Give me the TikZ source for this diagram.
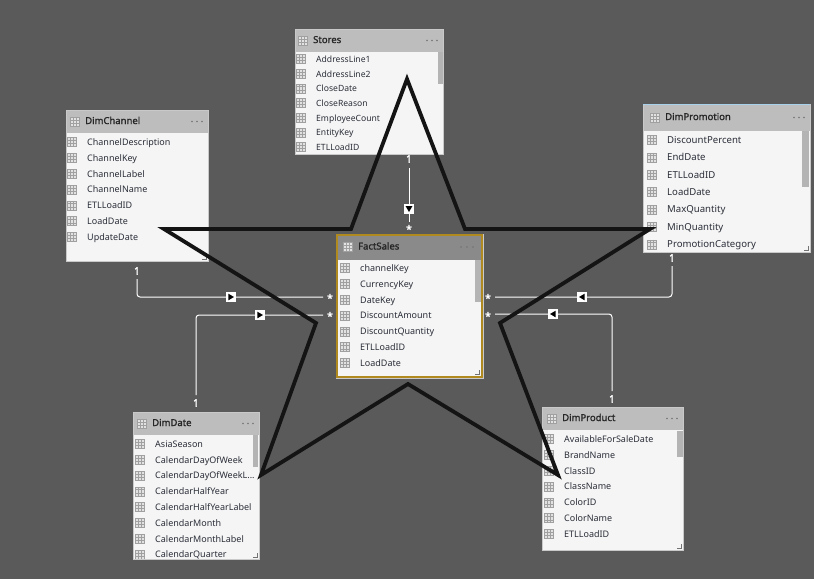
\documentclass[tikz,border=0pt]{standalone}
\usepackage{fontspec}
\setmainfont{Noto Sans}
\newfontfamily\headfont[FakeBold=1.4]{Noto Sans}
\newfontfamily\markfont[FakeBold=2]{Noto Sans}
\definecolor{canvasgrey}{HTML}{5A5A5A}
\definecolor{bodygrey}{HTML}{F5F5F5}
\definecolor{headgrey}{HTML}{BDBDBD}
\definecolor{factheadgrey}{HTML}{8A8A8A}
\definecolor{edgegrey}{HTML}{C9C9C9}
\definecolor{inkgrey}{HTML}{2A2E38}
\definecolor{iconline}{HTML}{A0A0A0}
\definecolor{iconfill}{HTML}{E2E2E2}
\definecolor{scrollgrey}{HTML}{B4B4B4}
\definecolor{goldedge}{HTML}{B08A1E}
\definecolor{starink}{HTML}{141414}
\definecolor{bluetop}{HTML}{A8D0EA}
\tikzset{
  x=1pt,y=-1pt,
  tablebody/.style={draw=edgegrey,line width=1,fill=bodygrey,inner sep=0,anchor=north west},
  rowtext/.style={anchor=west,inner sep=0,text height=7,text depth=2,text=inkgrey},
  titletext/.style={anchor=west,inner sep=0,text height=7,text depth=2,text=black!85,font=\fontsize{9.5}{11}\headfont},
  cardinal/.style={inner sep=0,text=white,font=\fontsize{10.5}{10}\markfont,minimum size=6},
  relation/.style={draw=white,line width=1,rounded corners=3},
  flagbox/.style={draw=white,fill=white,minimum size=9,inner sep=0,line width=.5},
  flagleft/.style={flagbox,path picture={\fill[black] ([xshift=2.6,yshift=-1.2]path picture bounding box.north) -- ([xshift=2.6,yshift=-7.8]path picture bounding box.north) -- ([xshift=-3]path picture bounding box.center) -- cycle;}},
  flagright/.style={flagbox,path picture={\fill[black] ([xshift=-2.6,yshift=-1.2]path picture bounding box.north) -- ([xshift=-2.6,yshift=-7.8]path picture bounding box.north) -- ([xshift=3]path picture bounding box.center) -- cycle;}},
  flagdown/.style={flagbox,path picture={\fill[black] ([yshift=-1.6,xshift=-3.4]path picture bounding box.north) -- ([yshift=-1.6,xshift=3.4]path picture bounding box.north) -- ([yshift=-3]path picture bounding box.center) -- cycle;}},
  staredge/.style={draw=starink,line width=3.8,line join=miter},
  gripmark/.style={draw=black!55,line width=.6},
  gridicon/.pic={
    \draw[iconline,fill=iconfill,line width=.7] (-4.8,-4.5) rectangle (4.8,4.5);
    \draw[iconline,line width=.5] (-4.8,-1.7) -- (4.8,-1.7) (-4.8,1.5) -- (4.8,1.5) (-1.5,-4.5) -- (-1.5,4.5) (1.7,-4.5) -- (1.7,4.5);
  }
}
\def\truncrow{CalendarDayOfWeekL...}
\newcommand{\modeltable}[9]{%
  \pgfmathsetmacro{\tw}{#4-#2}\pgfmathsetmacro{\th}{#5-#3}%
  \pgfmathsetmacro{\hh}{#6-#3}%
  \node[tablebody,minimum width=\tw,minimum height=\th] (#1) at (#2,#3) {};
  \fill[headgrey] (#2+.5,#3+.5) rectangle (#4-.5,#6);
  \pic at (#7-10,#3+\hh/2) {gridicon};
  \node[titletext] (#1-title) at (#7,#3+\hh/2) {#9};
  \foreach \dx in {-16,-11,-6} {\fill[black!55] (#4+\dx,#3+\hh/2) circle (.9);}
  \begin{scope}
    \clip (#2,#3) rectangle (#4,#5-.5);
    \modelrows{#1}{#8}
  \end{scope}
}
\newcommand{\modelrows}[2]{%
  \foreach \rowtxt [count=\i] in \rowlist {%
    \pgfmathsetmacro{\ry}{\rowstart+(\i-1)*\rowstep}%
    \pic at (#2-15,\ry) {gridicon};
    \node[rowtext,font=\fontsize{\rowsize}{11}\selectfont] (#1-r\i) at (#2,\ry+.8) {\rowtxt};
  }%
}
\newcommand{\rowset}[4]{\def\rowstart{#1}\def\rowstep{#2}\def\rowsize{#3}\def\rowlist{#4}}
\newcommand{\gripat}[2]{\draw[gripmark] (#1-6,#2-2) -- (#1-2,#2-2) -- (#1-2,#2-6);}
\begin{document}
\begin{tikzpicture}
\useasboundingbox[fill=canvasgrey] (0,0) rectangle (814,579);

\rowset{59}{14.7}{8.6}{AddressLine1,AddressLine2,CloseDate,CloseReason,EmployeeCount,EntityKey,ETLLoadID}
\modeltable{stores}{295}{29}{443}{154}{52}{313}{316}{Stores}
\fill[scrollgrey] (438,52) rectangle (443,84);

\rowset{142}{15.85}{9}{ChannelDescription,ChannelKey,ChannelLabel,ChannelName,ETLLoadID,LoadDate,UpdateDate}
\modeltable{channel}{66}{110}{208}{261}{133}{85}{87}{DimChannel}
\gripat{208}{261}

\rowset{268}{15.85}{9}{channelKey,CurrencyKey,DateKey,DiscountAmount,DiscountQuantity,ETLLoadID,LoadDate}
\modeltable{fact}{336}{234}{483}{378}{260}{358}{360}{}
\fill[factheadgrey] (337,235) rectangle (482,260);
\pic at (348,247) {gridicon};
\node[titletext] (fact-title2) at (358,247) {FactSales};
\foreach \dx in {-22,-16,-10} {\fill[black!55] (483+\dx,247) circle (.9);}
\fill[scrollgrey] (475,260) rectangle (481,302);
\gripat{481}{376}
\draw[goldedge,line width=2] (337,235) rectangle (482,377);

\rowset{140}{17.4}{9.6}{DiscountPercent,EndDate,ETLLoadID,LoadDate,MaxQuantity,MinQuantity,PromotionCategory}
\modeltable{promo}{643}{104}{810}{252}{131}{665}{667}{DimPromotion}
\fill[scrollgrey] (802,131) rectangle (809,187);
\gripat{810}{252}
\draw[bluetop,line width=1] (643,104) -- (810,104);

\rowset{444}{15.8}{9}{AsiaSeason,CalendarDayOfWeek,\truncrow,CalendarHalfYear,CalendarHalfYearLabel,CalendarMonth,CalendarMonthLabel,CalendarQuarter}
\modeltable{date}{133}{412}{259}{559}{435}{152}{155}{DimDate}
\fill[scrollgrey] (253,435) rectangle (258,467);
\gripat{259}{559}

\rowset{439}{15.85}{9}{AvailableForSaleDate,BrandName,ClassID,ClassName,ColorID,ColorName,ETLLoadID}
\modeltable{product}{542}{407}{683}{550}{430}{562}{564}{DimProduct}
\fill[scrollgrey] (677,431) rectangle (683,457);
\gripat{683}{550}

% cardinality labels
\node[cardinal] (one-stores) at (409,159) {1};
\node[cardinal] (many-stores) at (409,229) {*};
\node[cardinal] (one-channel) at (137,271) {1};
\node[cardinal] (many-channel) at (330,298) {*};
\node[cardinal] (one-date) at (196,403) {1};
\node[cardinal] (many-date) at (330,316) {*};
\node[cardinal] (one-promo) at (672,258) {1};
\node[cardinal] (many-promo) at (488,298) {*};
\node[cardinal] (one-product) at (612,399) {1};
\node[cardinal] (many-product) at (488,316) {*};

% relationships
\coordinate (st-s) at (409,168); \coordinate (st-e) at (409,222);
\draw[relation] (st-s) -- (st-e);
\coordinate (ch-s) at (137,279); \coordinate (ch-e) at (323,297);
\draw[relation] (ch-s) |- (ch-e);
\coordinate (da-s) at (196,395); \coordinate (da-e) at (323,315);
\draw[relation] (da-s) |- (da-e);
\coordinate (pr-s) at (672,266); \coordinate (pr-e) at (495,297);
\draw[relation] (pr-s) |- (pr-e);
\coordinate (po-s) at (612,391); \coordinate (po-e) at (495,314);
\draw[relation] (po-s) |- (po-e);

\node[flagdown] (flag-stores) at (409,209) {};
\node[flagright] (flag-channel) at (231,297) {};
\node[flagright] (flag-date) at (260,315) {};
\node[flagleft] (flag-promo) at (582,297) {};
\node[flagleft] (flag-product) at (553,314) {};

% overdrawn star
\draw[staredge] (407,79) -- (465,229) -- (650,229) -- (500,323) -- (558,475) -- (408,384) -- (261,475) -- (316,323) -- (164,229) -- (351,229) -- cycle;
\end{tikzpicture}
\end{document}
